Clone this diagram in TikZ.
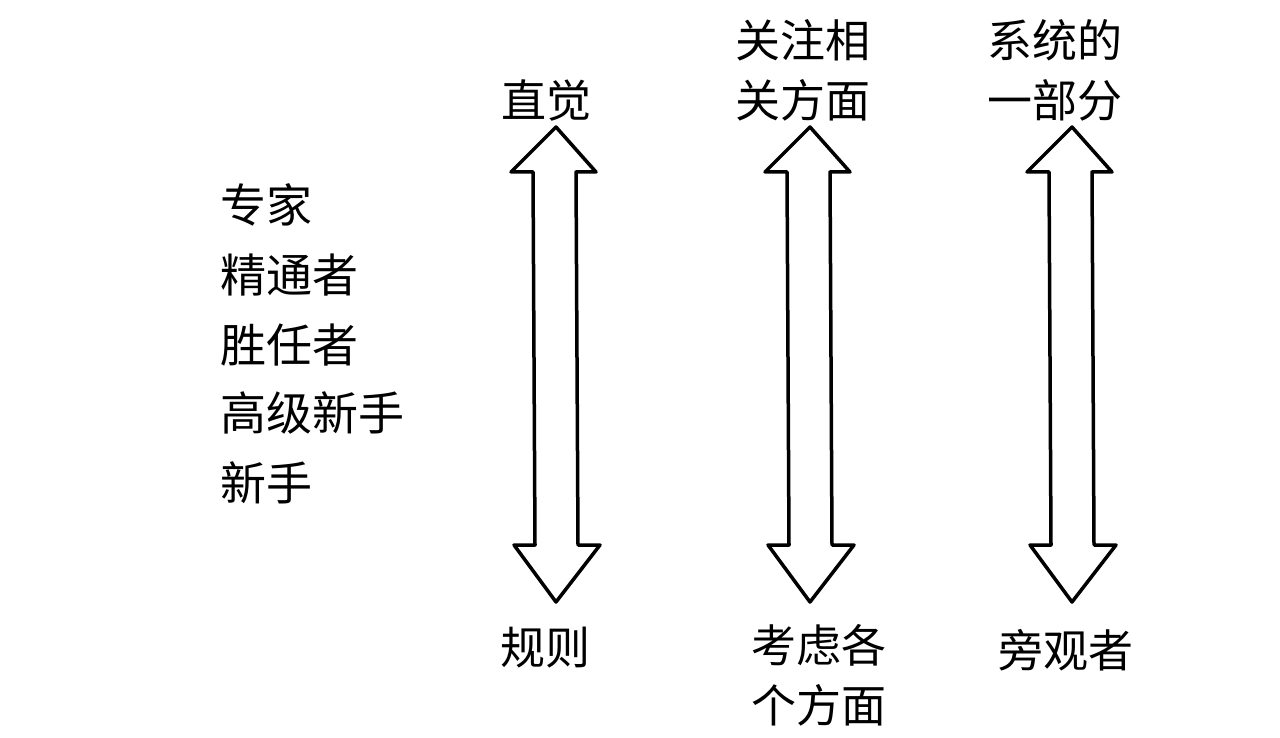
\documentclass[tikz,border=0pt]{standalone}
\usepackage{fontspec}
\setmainfont{Noto Sans CJK SC}
\begin{document}
\begin{tikzpicture}[x=1pt,y=-1pt,
  lbl/.style={inner sep=0pt,font=\fontsize{45}{60}\selectfont,align=center},
  lst/.style={inner sep=0pt,anchor=west,font=\fontsize{46}{60}\selectfont},
  darrow/.style={draw=black,line width=3.5pt,line join=round,fill=white}]
\useasboundingbox (0,0) rectangle (1280,738);
% double arrows
\foreach \n/\cx in {a/556,b/810,c/1072}{
  \draw[darrow] (\cx,127) -- (\cx+40,172) -- (\cx+20,172) -- (\cx+22,545)
    -- (\cx+44,545) -- (\cx,602) -- (\cx-42,545) -- (\cx-21,545)
    -- (\cx-23,172) -- (\cx-45,172) -- cycle;
}
% top labels
\node[lbl] (t1) at (546,100) {直觉};
\node[lbl] (t2) at (803,70) {关注相\\关方面};
\node[lbl] (t3) at (1055,70) {系统的\\一部分};
% bottom labels
\node[lbl] (b1) at (545,648) {规则};
\node[lbl] (b2) at (819,675) {考虑各\\个方面};
\node[lbl] (b3) at (1066,650) {旁观者};
% levels
\node[lst] (l1) at (220,205) {专家};
\node[lst] (l2) at (220,275) {精通者};
\node[lst] (l3) at (220,345) {胜任者};
\node[lst] (l4) at (220,413) {高级新手};
\node[lst] (l5) at (220,483) {新手};
\end{tikzpicture}
\end{document}
